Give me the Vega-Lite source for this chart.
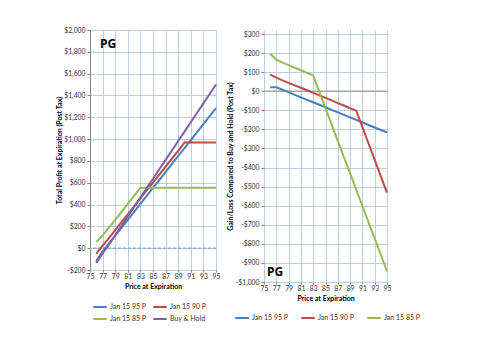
{
  "$schema": "https://vega.github.io/schema/vega-lite/v6.json",
  "padding": {"left": 55, "top": 27, "right": 5, "bottom": 5},
  "background": "white",
  "config": {
    "font": "Lato",
    "view": {"stroke": null},
    "axis": {"labelFont": "Lato", "titleFont": "Lato", "labelFontSize": 6.8, "titleFontSize": 7, "labelColor": "#333", "titleColor": "#000", "titleFontWeight": "bold", "gridColor": "#B9CDE5", "gridWidth": 1, "gridOpacity": 1, "domainColor": "#868686", "tickColor": "#868686", "tickSize": 3, "labelOverlap": false, "labelFlush": false, "labelPadding": 2, "tickCount": 30},
    "legend": {"labelFont": "Lato", "labelFontSize": 7, "symbolType": "stroke", "symbolSize": 180, "symbolStrokeWidth": 2, "labelColor": "#333", "title": null, "labelOffset": 2}
  },
  "datasets": {
    "left": [
      {"x":76,"s":"Jan 15 95 P","v":-119},{"x":77,"s":"Jan 15 95 P","v":-29},{"x":78,"s":"Jan 15 95 P","v":41},{"x":79,"s":"Jan 15 95 P","v":114},{"x":80,"s":"Jan 15 95 P","v":186},{"x":81,"s":"Jan 15 95 P","v":260},{"x":82,"s":"Jan 15 95 P","v":333},{"x":83,"s":"Jan 15 95 P","v":406},{"x":84,"s":"Jan 15 95 P","v":479},{"x":85,"s":"Jan 15 95 P","v":553},{"x":86,"s":"Jan 15 95 P","v":625},{"x":87,"s":"Jan 15 95 P","v":698},{"x":88,"s":"Jan 15 95 P","v":772},{"x":89,"s":"Jan 15 95 P","v":845},{"x":90,"s":"Jan 15 95 P","v":918},{"x":91,"s":"Jan 15 95 P","v":990},{"x":92,"s":"Jan 15 95 P","v":1064},{"x":93,"s":"Jan 15 95 P","v":1137},{"x":94,"s":"Jan 15 95 P","v":1210},{"x":95,"s":"Jan 15 95 P","v":1284},
      {"x":76,"s":"Jan 15 90 P","v":-50},{"x":77,"s":"Jan 15 90 P","v":23},{"x":78,"s":"Jan 15 90 P","v":93},{"x":79,"s":"Jan 15 90 P","v":165},{"x":80,"s":"Jan 15 90 P","v":238},{"x":81,"s":"Jan 15 90 P","v":311},{"x":82,"s":"Jan 15 90 P","v":384},{"x":83,"s":"Jan 15 90 P","v":456},{"x":84,"s":"Jan 15 90 P","v":529},{"x":85,"s":"Jan 15 90 P","v":602},{"x":86,"s":"Jan 15 90 P","v":675},{"x":87,"s":"Jan 15 90 P","v":747},{"x":88,"s":"Jan 15 90 P","v":821},{"x":89,"s":"Jan 15 90 P","v":893},{"x":90,"s":"Jan 15 90 P","v":968},{"x":91,"s":"Jan 15 90 P","v":968},{"x":92,"s":"Jan 15 90 P","v":968},{"x":93,"s":"Jan 15 90 P","v":968},{"x":94,"s":"Jan 15 90 P","v":968},{"x":95,"s":"Jan 15 90 P","v":968},
      {"x":76,"s":"Jan 15 85 P","v":56},{"x":77,"s":"Jan 15 85 P","v":118},{"x":78,"s":"Jan 15 85 P","v":188},{"x":79,"s":"Jan 15 85 P","v":260},{"x":80,"s":"Jan 15 85 P","v":333},{"x":81,"s":"Jan 15 85 P","v":406},{"x":82,"s":"Jan 15 85 P","v":480},{"x":83,"s":"Jan 15 85 P","v":555},{"x":84,"s":"Jan 15 85 P","v":555},{"x":85,"s":"Jan 15 85 P","v":555},{"x":86,"s":"Jan 15 85 P","v":555},{"x":87,"s":"Jan 15 85 P","v":555},{"x":88,"s":"Jan 15 85 P","v":555},{"x":89,"s":"Jan 15 85 P","v":555},{"x":90,"s":"Jan 15 85 P","v":555},{"x":91,"s":"Jan 15 85 P","v":555},{"x":92,"s":"Jan 15 85 P","v":555},{"x":93,"s":"Jan 15 85 P","v":555},{"x":94,"s":"Jan 15 85 P","v":555},{"x":95,"s":"Jan 15 85 P","v":555},
      {"x":76,"s":"Buy & Hold","v":-135},{"x":77,"s":"Buy & Hold","v":-48},{"x":78,"s":"Buy & Hold","v":33},{"x":79,"s":"Buy & Hold","v":119},{"x":80,"s":"Buy & Hold","v":205},{"x":81,"s":"Buy & Hold","v":292},{"x":82,"s":"Buy & Hold","v":378},{"x":83,"s":"Buy & Hold","v":464},{"x":84,"s":"Buy & Hold","v":550},{"x":85,"s":"Buy & Hold","v":637},{"x":86,"s":"Buy & Hold","v":723},{"x":87,"s":"Buy & Hold","v":809},{"x":88,"s":"Buy & Hold","v":896},{"x":89,"s":"Buy & Hold","v":982},{"x":90,"s":"Buy & Hold","v":1068},{"x":91,"s":"Buy & Hold","v":1154},{"x":92,"s":"Buy & Hold","v":1241},{"x":93,"s":"Buy & Hold","v":1327},{"x":94,"s":"Buy & Hold","v":1413},{"x":95,"s":"Buy & Hold","v":1500}
    ],
    "right": [
      {"x":76,"s":"Jan 15 95 P","v":21},{"x":77,"s":"Jan 15 95 P","v":21},{"x":78,"s":"Jan 15 95 P","v":8},{"x":79,"s":"Jan 15 95 P","v":-5},{"x":80,"s":"Jan 15 95 P","v":-19},{"x":81,"s":"Jan 15 95 P","v":-32},{"x":82,"s":"Jan 15 95 P","v":-45},{"x":83,"s":"Jan 15 95 P","v":-58},{"x":84,"s":"Jan 15 95 P","v":-71},{"x":85,"s":"Jan 15 95 P","v":-84},{"x":86,"s":"Jan 15 95 P","v":-98},{"x":87,"s":"Jan 15 95 P","v":-111},{"x":88,"s":"Jan 15 95 P","v":-124},{"x":89,"s":"Jan 15 95 P","v":-137},{"x":90,"s":"Jan 15 95 P","v":-150},{"x":91,"s":"Jan 15 95 P","v":-164},{"x":92,"s":"Jan 15 95 P","v":-177},{"x":93,"s":"Jan 15 95 P","v":-190},{"x":94,"s":"Jan 15 95 P","v":-203},{"x":95,"s":"Jan 15 95 P","v":-216},
      {"x":76,"s":"Jan 15 90 P","v":87},{"x":77,"s":"Jan 15 90 P","v":71},{"x":78,"s":"Jan 15 90 P","v":57},{"x":79,"s":"Jan 15 90 P","v":44},{"x":80,"s":"Jan 15 90 P","v":31},{"x":81,"s":"Jan 15 90 P","v":18},{"x":82,"s":"Jan 15 90 P","v":5},{"x":83,"s":"Jan 15 90 P","v":-9},{"x":84,"s":"Jan 15 90 P","v":-22},{"x":85,"s":"Jan 15 90 P","v":-35},{"x":86,"s":"Jan 15 90 P","v":-48},{"x":87,"s":"Jan 15 90 P","v":-62},{"x":88,"s":"Jan 15 90 P","v":-75},{"x":89,"s":"Jan 15 90 P","v":-89},{"x":90,"s":"Jan 15 90 P","v":-102},{"x":91,"s":"Jan 15 90 P","v":-188},{"x":92,"s":"Jan 15 90 P","v":-274},{"x":93,"s":"Jan 15 90 P","v":-360},{"x":94,"s":"Jan 15 90 P","v":-446},{"x":95,"s":"Jan 15 90 P","v":-532},
      {"x":76,"s":"Jan 15 85 P","v":196},{"x":77,"s":"Jan 15 85 P","v":166},{"x":78,"s":"Jan 15 85 P","v":150},{"x":79,"s":"Jan 15 85 P","v":137},{"x":80,"s":"Jan 15 85 P","v":123},{"x":81,"s":"Jan 15 85 P","v":110},{"x":82,"s":"Jan 15 85 P","v":96},{"x":83,"s":"Jan 15 85 P","v":82},{"x":84,"s":"Jan 15 85 P","v":-4},{"x":85,"s":"Jan 15 85 P","v":-89},{"x":86,"s":"Jan 15 85 P","v":-175},{"x":87,"s":"Jan 15 85 P","v":-260},{"x":88,"s":"Jan 15 85 P","v":-346},{"x":89,"s":"Jan 15 85 P","v":-431},{"x":90,"s":"Jan 15 85 P","v":-516},{"x":91,"s":"Jan 15 85 P","v":-602},{"x":92,"s":"Jan 15 85 P","v":-687},{"x":93,"s":"Jan 15 85 P","v":-772},{"x":94,"s":"Jan 15 85 P","v":-858},{"x":95,"s":"Jan 15 85 P","v":-943}
    ],
    "labelL": [{"x":76.6,"v":1874,"t":"PG"}],
    "labelR": [{"x":75.5,"v":-950,"t":"PG"}],
    "zero": [{"v":0}]
  },
  "spacing": 6,
  "resolve": {"scale": {"color": "independent"}},
  "hconcat": [
    {
      "width": 126,
      "height": 240,
      "layer": [
        {
          "data": {"name": "zero"},
          "mark": {"type": "rule", "color": "#8EA9CF", "strokeDash": [3, 2], "strokeWidth": 1.5},
          "encoding": {"y": {"field": "v", "type": "quantitative", "scale": {"domain": [-200, 2000], "nice": false}}}
        },
        {
          "data": {"name": "left"},
          "mark": {"type": "line", "strokeWidth": 2},
          "encoding": {
            "x": {"field": "x", "type": "quantitative", "scale": {"domain": [75, 95], "nice": false}, "axis": {"values": [75,77,79,81,83,85,87,89,91,93,95], "format": "d", "tickCount": 30, "tickSize": 2, "labelPadding": 1, "title": "Price at Expiration", "titlePadding": 3, "domain": false}},
            "y": {"field": "v", "type": "quantitative", "scale": {"domain": [-200, 2000], "nice": false}, "axis": {"values": [-200,0,200,400,600,800,1000,1200,1400,1600,1800,2000], "tickCount": 30, "title": "Total Profit at Expiration (Post Tax)", "titlePadding": 1, "labelExpr": "(datum.value < 0 ? '-' : '') + '$' + format(abs(datum.value), ',')"}},
            "color": {"field": "s", "type": "nominal", "sort": ["Jan 15 95 P", "Jan 15 90 P", "Jan 15 85 P", "Buy & Hold"], "scale": {"domain": ["Jan 15 95 P", "Jan 15 90 P", "Jan 15 85 P", "Buy & Hold"], "range": ["#4A7EBB", "#BE4B48", "#98B954", "#7D60A0"]}, "legend": {"orient": "none", "legendX": 2, "legendY": 269, "columns": 2, "columnPadding": 2, "rowPadding": 0, "direction": "horizontal"}}
          }
        },
        {
          "data": {"name": "labelL"},
          "mark": {"type": "text", "fontSize": 12, "fontWeight": "bold", "font": "Open Sans", "align": "left", "color": "#000"},
          "encoding": {"x": {"field": "x", "type": "quantitative"}, "y": {"field": "v", "type": "quantitative"}, "text": {"field": "t"}}
        }
      ]
    },
    {
      "width": 123,
      "height": 252,
      "layer": [
        {
          "data": {"name": "zero"},
          "mark": {"type": "rule", "color": "#A6A6A6", "strokeWidth": 1.5},
          "encoding": {"y": {"field": "v", "type": "quantitative", "scale": {"domain": [-1000, 321], "nice": false}}}
        },
        {
          "data": {"name": "right"},
          "mark": {"type": "line", "strokeWidth": 2},
          "encoding": {
            "x": {"field": "x", "type": "quantitative", "scale": {"domain": [75, 95], "nice": false}, "axis": {"values": [75,77,79,81,83,85,87,89,91,93,95], "format": "d", "tickCount": 30, "tickSize": 2, "labelPadding": 1, "title": "Price at Expiration", "titlePadding": 3, "domain": false}},
            "y": {"field": "v", "type": "quantitative", "scale": {"domain": [-1000, 321], "nice": false}, "axis": {"values": [-1000,-900,-800,-700,-600,-500,-400,-300,-200,-100,0,100,200,300], "tickCount": 30, "domain": false, "title": "Gain/Loss Compared to Buy and Hold (Post Tax)", "titlePadding": 2, "labelExpr": "(datum.value < 0 ? '-' : '') + '$' + format(abs(datum.value), ',')"}},
            "color": {"field": "s", "type": "nominal", "sort": ["Jan 15 95 P", "Jan 15 90 P", "Jan 15 85 P"], "scale": {"domain": ["Jan 15 95 P", "Jan 15 90 P", "Jan 15 85 P"], "range": ["#4A7EBB", "#BE4B48", "#98B954"]}, "legend": {"orient": "none", "legendX": -30, "legendY": 280, "columns": 3, "columnPadding": 8, "direction": "horizontal"}}
          }
        },
        {
          "data": {"name": "labelR"},
          "mark": {"type": "text", "fontSize": 12, "fontWeight": "bold", "font": "Open Sans", "align": "left", "color": "#000"},
          "encoding": {"x": {"field": "x", "type": "quantitative"}, "y": {"field": "v", "type": "quantitative"}, "text": {"field": "t"}}
        }
      ]
    }
  ]
}
